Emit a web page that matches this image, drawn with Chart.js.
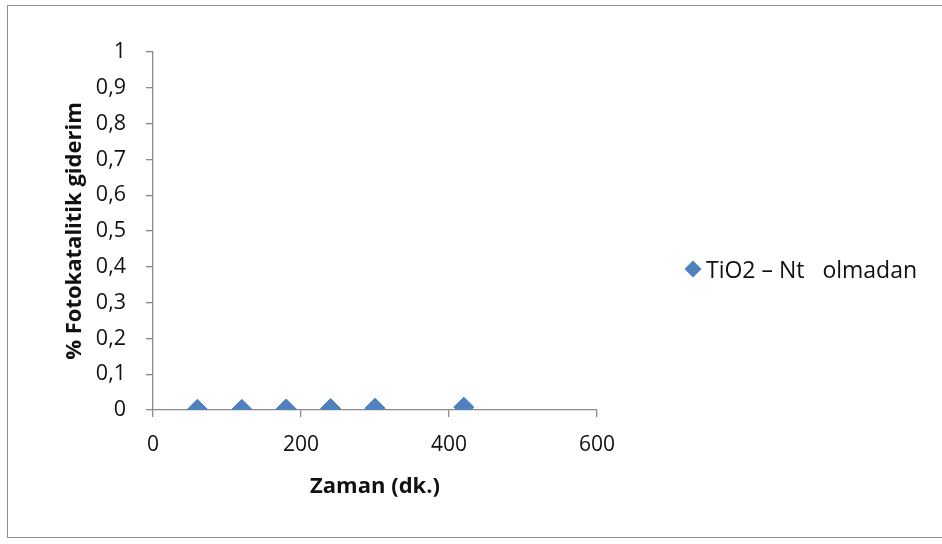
<!DOCTYPE html>
<html>
<head>
<meta charset="utf-8">
<script src="https://cdn.jsdelivr.net/npm/chart.js@4/dist/chart.umd.min.js"></script>
<style>
  html, body { margin: 0; padding: 0; background: #fff; }
  #wrap { position: relative; width: 942px; height: 544px; overflow: hidden; }
  #frame { position: absolute; left: 7px; top: 5px; width: 960px; height: 533px;
           border: 1.5px solid #8c8c8c; box-sizing: border-box; pointer-events: none; }
  #legend { position: absolute; left: 683px; top: 253px; font-family: "Open Sans", Lato, sans-serif;
            font-size: 23px; color: #111; white-space: pre; display: flex; align-items: center; }
  #legend .mk { display: inline-block; width: 12px; height: 12px; background: #4F81BD;
                transform: rotate(45deg); margin: 0 7px 0 4px; }
</style>
</head>
<body>
<div id="wrap">
  <canvas id="c" width="942" height="544"></canvas>
  <div id="frame"></div>
  <div id="legend"><span class="mk"></span><span id="legendText"></span></div>
</div>
<script>
// Time (minutes) and photocatalytic removal fraction
const seriesName = "TiO2 \u2013 Nt   olmadan";
const zaman = [60, 120, 180, 240, 300, 420];
const giderim = [0.002, 0.002, 0.003, 0.004, 0.005, 0.008];
const xTicks = [0, 200, 400, 600];
const yTicks = [0, 0.1, 0.2, 0.3, 0.4, 0.5, 0.6, 0.7, 0.8, 0.9, 1];

document.getElementById('legendText').textContent = seriesName;

const FONT = "'Open Sans', Lato, sans-serif";
const axisColor = '#8a8a8a';

new Chart(document.getElementById('c'), {
  type: 'scatter',
  data: {
    datasets: [{
      label: seriesName,
      data: zaman.map((x, i) => ({ x: x, y: giderim[i] })),
      pointStyle: 'rectRot',
      pointRadius: 10,
      pointHoverRadius: 10,
      backgroundColor: '#4F81BD',
      borderColor: '#4A7EBB',
      borderWidth: 1,
      showLine: false
    }]
  },
  options: {
    responsive: false,
    animation: false,
    layout: { padding: { top: 52, right: 345, left: 62, bottom: 42 } },
    plugins: { legend: { display: false }, tooltip: { enabled: false } },
    scales: {
      x: {
        type: 'linear', min: 0, max: 600,
        afterBuildTicks: s => { s.ticks = xTicks.map(v => ({ value: v })); },
        afterFit: s => { s.height = 92; },
        grid: { drawOnChartArea: false, drawTicks: true, tickLength: 7, color: axisColor, lineWidth: 1.3 },
        border: { color: axisColor, width: 1.3 },
        ticks: { font: { family: FONT, size: 21 }, color: '#111', padding: 15, maxRotation: 0 },
        title: { display: true, text: 'Zaman (dk.)', font: { family: FONT, size: 22, weight: 'bold' },
                 color: '#111', padding: { top: 4, bottom: 2 } }
      },
      y: {
        type: 'linear', min: 0, max: 1,
        afterBuildTicks: s => { s.ticks = yTicks.map(v => ({ value: v })); },
        afterFit: s => { s.width = 91; },
        grid: { drawOnChartArea: false, drawTicks: true, tickLength: 7, color: axisColor, lineWidth: 1.3 },
        border: { color: axisColor, width: 1.3 },
        ticks: { font: { family: FONT, size: 21.5 }, color: '#111', padding: 20,
                 callback: v => String(Math.round(v * 10) / 10).replace('.', ',') },
        title: { display: true, text: '% Fotokatalitik giderim', font: { family: FONT, size: 22, weight: 'bold' },
                 color: '#111', padding: { top: 0, bottom: 4 } }
      }
    }
  }
});
</script>
</body>
</html>
